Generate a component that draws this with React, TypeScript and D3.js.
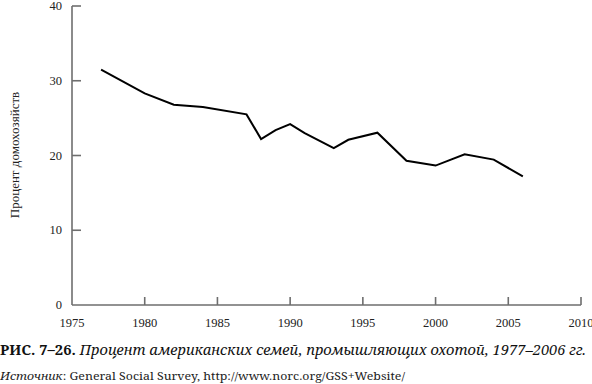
import React from "react";
import * as d3 from "d3";

const years = [1977, 1980, 1982, 1984, 1987, 1988, 1989, 1990, 1991, 1993, 1994, 1996, 1998, 2000, 2002, 2004, 2006];
const values = [31.5, 28.3, 26.8, 26.5, 25.5, 22.2, 23.4, 24.2, 23.0, 21.0, 22.1, 23.05, 19.3, 18.65, 20.15, 19.45, 17.2];
const xTicks = [1975, 1980, 1985, 1990, 1995, 2000, 2005, 2010];
const yTicks = [0, 10, 20, 30, 40];
const yTitle = "Процент домохозяйств";
const captionBold = "РИС. 7–26. ";
const captionItalic = "Процент американских семей, промышляющих охотой, 1977–2006 гг.";
const sourceItalic = "Источник";
const sourceRest = ": General Social Survey, http://www.norc.org/GSS+Website/";

export default function App() {
  const W = 592, H = 384;
  const x = d3.scaleLinear().domain([1975, 2010]).range([72, 581]);
  const y = d3.scaleLinear().domain([0, 40]).range([305, 6]);
  const line = d3.line<number>().x((_, i) => x(years[i])).y((d) => y(d));
  const axisColor = "#6e6e6e";
  const font = "'Liberation Serif', serif";
  const capFont = "'Noto Serif', serif";
  return (
    <svg width={W} height={H} style={{ position: "absolute", left: 0, top: 0, background: "#fff" }}>
      <line x1={x(1975)} x2={x(1975)} y1={y(40)} y2={y(0)} stroke={axisColor} strokeWidth={1.6} />
      <line x1={x(1975)} x2={x(2010)} y1={y(0)} y2={y(0)} stroke={axisColor} strokeWidth={1.6} />
      {yTicks.map((t) => (
        <g key={"y" + t}>
          {t !== 0 && <line x1={x(1975)} x2={x(1975) + 9} y1={y(t)} y2={y(t)} stroke={axisColor} strokeWidth={1.6} />}
          <text x={62} y={y(t)} dy="0.32em" textAnchor="end" fontFamily={font} fontSize={12.5} fill="#222">{t}</text>
        </g>
      ))}
      {xTicks.map((t) => (
        <g key={"x" + t}>
          {t !== 1975 && <line x1={x(t)} x2={x(t)} y1={y(0)} y2={y(0) - 8} stroke={axisColor} strokeWidth={1.6} />}
          <text x={x(t)} y={327} textAnchor="middle" fontFamily={font} fontSize={12.5} fill="#222">{t}</text>
        </g>
      ))}
      <text transform={`translate(19,${155}) rotate(-90)`} textAnchor="middle" fontFamily={font} fontSize={13} fill="#222">{yTitle}</text>
      <path d={line(values) || ""} fill="none" stroke="#000" strokeWidth={2} strokeLinejoin="miter" />
      <text x={0} y={355} fontFamily={capFont} fontSize={13.5} fill="#111" textLength={586} lengthAdjust="spacingAndGlyphs">
        <tspan fontWeight="bold">{captionBold}</tspan>
        <tspan fontStyle="italic">{captionItalic}</tspan>
      </text>
      <text x={0} y={380} fontFamily={capFont} fontSize={11} fill="#222" textLength={405} lengthAdjust="spacingAndGlyphs">
        <tspan fontStyle="italic">{sourceItalic}</tspan>
        <tspan>{sourceRest}</tspan>
      </text>
    </svg>
  );
}
